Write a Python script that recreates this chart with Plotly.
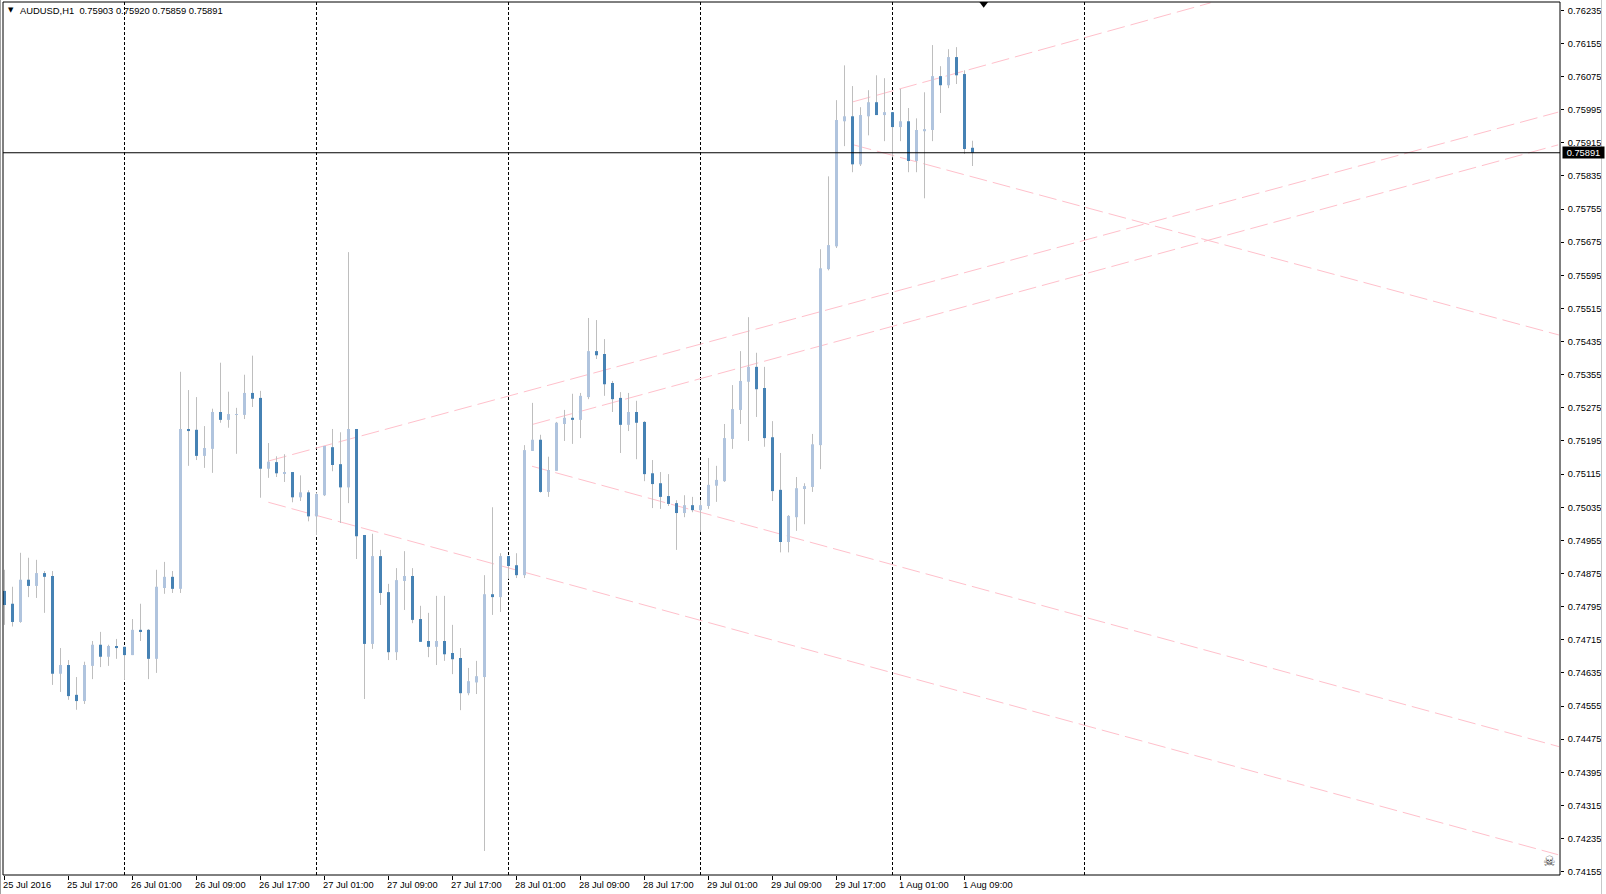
import plotly.graph_objects as go

symbol_header = "AUDUSD,H1\u00a0\u00a00.75903 0.75920 0.75859 0.75891"
bid = 0.75891

tick_labels = ["25 Jul 2016", "25 Jul 17:00", "26 Jul 01:00", "26 Jul 09:00", "26 Jul 17:00",
               "27 Jul 01:00", "27 Jul 09:00", "27 Jul 17:00", "28 Jul 01:00", "28 Jul 09:00",
               "28 Jul 17:00", "29 Jul 01:00", "29 Jul 09:00", "29 Jul 17:00", "1 Aug 01:00", "1 Aug 09:00"]
tick_bars = [0, 8, 16, 24, 32, 40, 48, 56, 64, 72, 80, 88, 96, 104, 112, 120]
day_breaks = [15, 39, 63, 87, 111, 135]
price_ticks = [0.76235, 0.76155, 0.76075, 0.75995, 0.75915, 0.75835, 0.75755, 0.75675, 0.75595,
               0.75515, 0.75435, 0.75355, 0.75275, 0.75195, 0.75115, 0.75035, 0.74955, 0.74875,
               0.74795, 0.74715, 0.74635, 0.74555, 0.74475, 0.74395, 0.74315, 0.74235, 0.74155]

opens = [0.74833, 0.74802, 0.74758, 0.74860, 0.74845, 0.74876, 0.74869, 0.74633, 0.74654, 0.74582,
         0.74567, 0.74652, 0.74703, 0.74674, 0.74700, 0.74698, 0.74678, 0.74739, 0.74739, 0.74669,
         0.74840, 0.74867, 0.74838, 0.75224, 0.75222, 0.75159, 0.75176, 0.75265, 0.75246, 0.75258,
         0.75258, 0.75311, 0.75299, 0.75128, 0.75144, 0.75117, 0.75120, 0.75059, 0.75071, 0.75013,
         0.75064, 0.75180, 0.75139, 0.75083, 0.75224, 0.74968, 0.74705, 0.74917, 0.74830, 0.74685,
         0.74857, 0.74869, 0.74765, 0.74712, 0.74698, 0.74712, 0.74683, 0.74671, 0.74586, 0.74612,
         0.74625, 0.74825, 0.74818, 0.74917, 0.74895, 0.74871, 0.75171, 0.75198, 0.75072, 0.75123,
         0.75236, 0.75251, 0.75246, 0.75301, 0.75412, 0.75405, 0.75335, 0.75299, 0.75234, 0.75265,
         0.75241, 0.75117, 0.75093, 0.75062, 0.75045, 0.75021, 0.75040, 0.75028, 0.75038, 0.75087,
         0.75098, 0.75200, 0.75270, 0.75338, 0.75374, 0.75323, 0.75204, 0.75077, 0.74951, 0.75011,
         0.75079, 0.75084, 0.75185, 0.75610, 0.75665, 0.75967, 0.75979, 0.75863, 0.75979, 0.76013,
         0.75982, 0.75989, 0.75953, 0.75967, 0.75871, 0.75943, 0.75946, 0.76076, 0.76054, 0.76122,
         0.76081, 0.75903]
closes = [0.74799, 0.74758, 0.74860, 0.74845, 0.74876, 0.74867, 0.74633, 0.74654, 0.74579, 0.74567,
          0.74654, 0.74703, 0.74674, 0.74700, 0.74695, 0.74678, 0.74739, 0.74736, 0.74669, 0.74843,
          0.74867, 0.74838, 0.75224, 0.75219, 0.75159, 0.75178, 0.75265, 0.75246, 0.75260, 0.75260,
          0.75311, 0.75297, 0.75128, 0.75145, 0.75117, 0.75120, 0.75059, 0.75071, 0.75013, 0.75067,
          0.75183, 0.75137, 0.75083, 0.75224, 0.74965, 0.74705, 0.74917, 0.74828, 0.74685, 0.74859,
          0.74869, 0.74763, 0.74710, 0.74698, 0.74712, 0.74680, 0.74668, 0.74586, 0.74615, 0.74627,
          0.74825, 0.74818, 0.74917, 0.74893, 0.74871, 0.75173, 0.75198, 0.75072, 0.75125, 0.75239,
          0.75251, 0.75246, 0.75304, 0.75412, 0.75402, 0.75332, 0.75296, 0.75234, 0.75265, 0.75239,
          0.75115, 0.75091, 0.75060, 0.75043, 0.75021, 0.75040, 0.75028, 0.75040, 0.75089, 0.75101,
          0.75202, 0.75272, 0.75340, 0.75374, 0.75320, 0.75202, 0.75074, 0.74951, 0.75014, 0.75081,
          0.75086, 0.75187, 0.75612, 0.75668, 0.75970, 0.75979, 0.75863, 0.75982, 0.76013, 0.75982,
          0.75989, 0.75953, 0.75967, 0.75871, 0.75946, 0.75948, 0.76076, 0.76054, 0.76122, 0.76078,
          0.75900, 0.75891]
highs = [0.74884, 0.74843, 0.74925, 0.74913, 0.74908, 0.74881, 0.74881, 0.74695, 0.74666, 0.74625,
         0.74662, 0.74712, 0.74734, 0.74703, 0.74717, 0.74698, 0.74765, 0.74802, 0.74741, 0.74884,
         0.74903, 0.74881, 0.75362, 0.75318, 0.75301, 0.75231, 0.75273, 0.75384, 0.75314, 0.75275,
         0.75355, 0.75401, 0.75316, 0.75190, 0.75158, 0.75163, 0.75120, 0.75112, 0.75076, 0.75071,
         0.75183, 0.75224, 0.75216, 0.75651, 0.75224, 0.74968, 0.74971, 0.74932, 0.74850, 0.74888,
         0.74929, 0.74888, 0.74797, 0.74780, 0.74821, 0.74821, 0.74751, 0.74695, 0.74647, 0.74664,
         0.74871, 0.75035, 0.74924, 0.74917, 0.74924, 0.75185, 0.75287, 0.75210, 0.75157, 0.75241,
         0.75270, 0.75309, 0.75311, 0.75492, 0.75487, 0.75441, 0.75340, 0.75313, 0.75311, 0.75292,
         0.75243, 0.75149, 0.75120, 0.75115, 0.75052, 0.75064, 0.75060, 0.75052, 0.75154, 0.75135,
         0.75236, 0.75330, 0.75412, 0.75494, 0.75408, 0.75374, 0.75243, 0.75166, 0.75016, 0.75108,
         0.75093, 0.75212, 0.75658, 0.75834, 0.76018, 0.76102, 0.76052, 0.76001, 0.76042, 0.76078,
         0.76071, 0.75989, 0.76045, 0.75999, 0.75974, 0.76037, 0.76151, 0.76100, 0.76141, 0.76146,
         0.76090, 0.75920]
lows = [0.74751, 0.74747, 0.74756, 0.74818, 0.74816, 0.74780, 0.74606, 0.74589, 0.74570, 0.74546,
        0.74560, 0.74620, 0.74649, 0.74652, 0.74669, 0.74618, 0.74678, 0.74712, 0.74620, 0.74635,
        0.74826, 0.74828, 0.74828, 0.75135, 0.75149, 0.75130, 0.75118, 0.75239, 0.75227, 0.75164,
        0.75248, 0.75277, 0.75058, 0.75106, 0.75108, 0.75096, 0.75047, 0.75050, 0.75001, 0.74968,
        0.75062, 0.75122, 0.74997, 0.75045, 0.74910, 0.74572, 0.74693, 0.74799, 0.74666, 0.74666,
        0.74787, 0.74755, 0.74710, 0.74673, 0.74654, 0.74664, 0.74632, 0.74545, 0.74581, 0.74584,
        0.74205, 0.74775, 0.74782, 0.74862, 0.74864, 0.74864, 0.75171, 0.75070, 0.75060, 0.75123,
        0.75195, 0.75188, 0.75202, 0.75296, 0.75393, 0.75304, 0.75265, 0.75166, 0.75219, 0.75151,
        0.75098, 0.75033, 0.75031, 0.75038, 0.74932, 0.75011, 0.75023, 0.74975, 0.75031, 0.75048,
        0.75096, 0.75176, 0.75236, 0.75195, 0.75253, 0.75181, 0.75050, 0.74926, 0.74926, 0.74978,
        0.74994, 0.75072, 0.75127, 0.75607, 0.75661, 0.75907, 0.75844, 0.75859, 0.75933, 0.75982,
        0.75919, 0.75880, 0.75919, 0.75844, 0.75844, 0.75781, 0.75919, 0.75987, 0.76047, 0.76057,
        0.75888, 0.75859]
bars = list(range(len(opens)))

# Trend lines: start bar, start price, end bar, end price
trend_lines = [
    (33.06, 0.75147, 194.2, 0.75989),
    (66.00, 0.75235, 194.2, 0.75910),
    (106.06, 0.76014, 150.76, 0.76253),
    (106.15, 0.75910, 194.3, 0.75451),
    (65.94, 0.75134, 194.3, 0.74457),
    (32.98, 0.75047, 194.2, 0.74196),
]

W, H = 1606, 894
L, R, T, B = 3, 46, 2, 19
PW, PH = W - L - R, H - T - B
FONT = "Liberation Sans"
TEXT_SIZE = 9.3
BULL, BEAR, WICK, PINK = "#B0C4DE", "#4682B4", "#BEBEBE", "#FFC0CB"


def px(xp):
    return (xp - L) / PW


def py(yp):
    return 1 - (yp - T) / PH


fig = go.Figure()

for x0, y0, x1, y1 in trend_lines:
    fig.add_trace(go.Scatter(x=[x0, x1], y=[y0, y1], mode="lines", zorder=0, hoverinfo="skip",
                             line=dict(color=PINK, width=1, dash="18px,6px")))

wx, wy = [], []
for i, hi, lo in zip(bars, highs, lows):
    wx += [i, i, None]
    wy += [hi, lo, None]
fig.add_trace(go.Scatter(x=wx, y=wy, mode="lines", zorder=1, hoverinfo="skip",
                         line=dict(color=WICK, width=1)))

for rising, col in ((True, BULL), (False, BEAR)):
    idx = [i for i in bars if (closes[i] >= opens[i]) == rising]
    fig.add_trace(go.Bar(x=idx,
                         base=[min(opens[i], closes[i]) for i in idx],
                         y=[abs(closes[i] - opens[i]) for i in idx],
                         width=0.375, zorder=2,
                         marker=dict(color=col, line=dict(width=0))))

fig.add_trace(go.Scatter(x=[122.4], y=[0.76251], mode="markers", zorder=4, hoverinfo="skip",
                         marker=dict(symbol="triangle-down", size=8, color="black", line=dict(width=0))))

shapes = [dict(type="line", xref="x", yref="paper", x0=b, x1=b, y0=0, y1=1, layer="below",
               line=dict(color="black", width=1, dash="3px,2px")) for b in day_breaks]
shapes.append(dict(type="line", xref="paper", yref="y", x0=0, x1=1, y0=bid, y1=bid, layer="above",
                   line=dict(color="black", width=1)))
shapes.append(dict(type="rect", xref="paper", yref="paper", x0=0, x1=1, y0=0, y1=1, layer="above",
                   line=dict(color="black", width=1), fillcolor="rgba(0,0,0,0)"))
shapes.append(dict(type="line", xref="paper", yref="paper", x0=px(1601.5), x1=px(1601.5), y0=py(894), y1=py(0),
                   line=dict(color="#C8C8C8", width=1)))
shapes.append(dict(type="line", xref="paper", yref="paper", x0=px(0.5), x1=px(0.5), y0=py(894), y1=py(0),
                   line=dict(color="#A0A0A0", width=1)))

annotations = [
    dict(xref="paper", yref="paper", x=px(19), y=py(11), text=symbol_header, showarrow=False,
         xanchor="left", yanchor="middle", borderpad=0, font=dict(family=FONT, size=9.4, color="black")),
    dict(xref="paper", yref="paper", x=px(11), y=py(10.5), text="\u25BC", showarrow=False,
         xanchor="center", yanchor="middle", borderpad=0, font=dict(family="DejaVu Sans", size=7, color="black")),
    dict(xref="paper", yref="y", x=px(1562), y=bid, text=f"{bid:.5f}", showarrow=False,
         xanchor="left", yanchor="middle", width=41, height=11, bgcolor="black", borderpad=0,
         font=dict(family=FONT, size=TEXT_SIZE, color="white")),
    dict(xref="paper", yref="paper", x=px(1549), y=py(861), text="\u2620", showarrow=False,
         xanchor="center", yanchor="middle", borderpad=0, font=dict(family="DejaVu Sans", size=14, color="#3A3A3A")),
]

fig.update_layout(
    width=W, height=H, autosize=False, showlegend=False,
    margin=dict(l=L, r=R, t=T, b=B, pad=0),
    paper_bgcolor="white", plot_bgcolor="white",
    barmode="overlay", hovermode=False,
    shapes=shapes, annotations=annotations,
    font=dict(family=FONT, size=TEXT_SIZE, color="black"),
    xaxis=dict(range=[(L - 4.5) / 8, (W - R - 4.5) / 8], tickmode="array", tickvals=tick_bars,
               ticktext=tick_labels, ticks="outside", ticklen=4, tickwidth=1, tickcolor="black",
               ticklabelposition="outside right", ticklabelshift=-2, ticklabelstandoff=1,
               showgrid=False, zeroline=False,
               tickfont=dict(family=FONT, size=TEXT_SIZE, color="black")),
    yaxis=dict(range=[0.74147, 0.76255], side="right", tickmode="array", tickvals=price_ticks,
               tickformat=".5f", ticks="outside", ticklen=3, tickwidth=1, tickcolor="black",
               ticklabelstandoff=2,
               showgrid=False, zeroline=False,
               tickfont=dict(family=FONT, size=TEXT_SIZE, color="black")),
)

fig.write_html("out.html", config=dict(displayModeBar=False),
               post_script="document.body.style.margin='0';document.body.style.overflow='hidden';")
